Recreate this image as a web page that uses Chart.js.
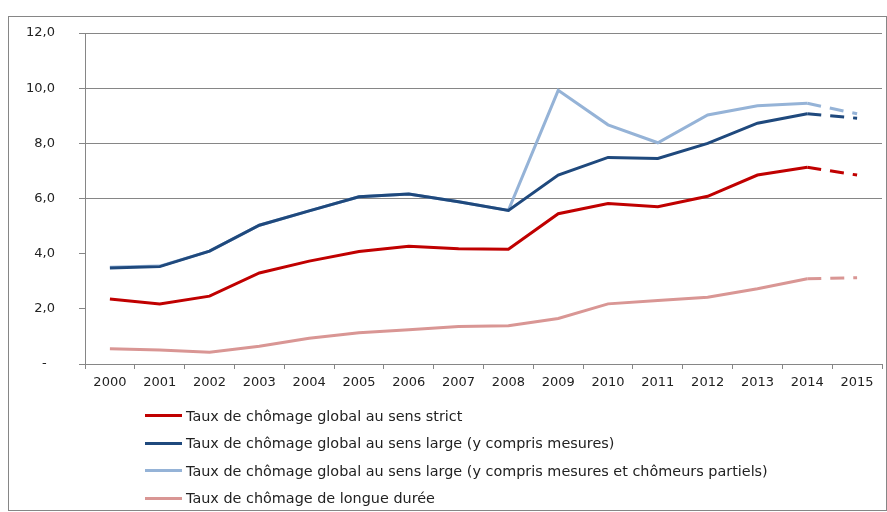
<!DOCTYPE html>
<html>
<head>
<meta charset="utf-8">
<script src="https://cdn.jsdelivr.net/npm/chart.js@4/dist/chart.umd.min.js"></script>
<style>
  body { margin: 0; background: #fff; }
  #wrap { position: relative; width: 887px; height: 512px; }
  #frame { position: absolute; left: 8px; top: 16px; width: 877px; height: 493px; border: 1px solid #868686; pointer-events: none; }
  #legend { position: absolute; left: 145px; top: 402px; font-family: "DejaVu Sans", sans-serif; font-size: 14.4px; color: #222; }
  #legend div { height: 27.5px; display: flex; align-items: center; white-space: nowrap; }
  #legend span.sw { display: inline-block; width: 37px; height: 3px; margin-right: 4px; }
</style>
</head>
<body>
<div id="wrap">
  <canvas id="chart" width="887" height="512"></canvas>
  <div id="frame"></div>
  <div id="legend"></div>
</div>
<script>
// données
const years = ['2000', '2001', '2002', '2003', '2004', '2005', '2006', '2007',
               '2008', '2009', '2010', '2011', '2012', '2013', '2014', '2015'];
const sensStrict = [2.36, 2.18, 2.46, 3.30, 3.73, 4.08, 4.27, 4.18, 4.16, 5.45, 5.82, 5.70, 6.08, 6.85, 7.13, 6.85];
const sensLarge = [3.48, 3.53, 4.09, 5.03, 5.55, 6.06, 6.16, 5.88, 5.57, 6.85, 7.49, 7.45, 8.00, 8.73, 9.07, 8.91];
const sensLargePartiels = [3.51, 3.55, 4.09, 5.03, 5.55, 6.06, 6.16, 5.88, 5.57, 9.92, 8.67, 8.02, 9.03, 9.36, 9.45, 9.07];
const longueDuree = [0.55, 0.51, 0.43, 0.64, 0.93, 1.13, 1.24, 1.36, 1.39, 1.65, 2.18, 2.30, 2.42, 2.73, 3.09, 3.13];
const labels = [
    'Taux de chômage global au sens strict',
    'Taux de chômage global au sens large (y compris mesures)',
    'Taux de chômage global au sens large (y compris mesures et chômeurs partiels)',
    'Taux de chômage de longue durée'
];
const colors = ['#C00000', '#1F497D', '#95B3D7', '#D99694'];

const lastIndex = years.length - 2; // le dernier segment (2014-2015) est en pointillés

function makeDataset(i, values) {
    return {
        label: labels[i],
        data: values,
        borderColor: colors[i],
        backgroundColor: colors[i],
        borderWidth: 3,
        pointRadius: 0,
        tension: 0,
        fill: false,
        segment: {
            borderDash: ctx => ctx.p0DataIndex === lastIndex ? [14, 9] : undefined
        }
    };
}

const grey = '#868686';
const tickFont = { family: '"DejaVu Sans", sans-serif', size: 13 };

const chart = new Chart(document.getElementById('chart').getContext('2d'), {
    type: 'line',
    data: {
        labels: years,
        datasets: [
            makeDataset(0, sensStrict),
            makeDataset(1, sensLarge),
            makeDataset(2, sensLargePartiels),
            makeDataset(3, longueDuree)
        ]
    },
    options: {
        responsive: false,
        animation: false,
        layout: { padding: { left: 0, top: 33, right: 5, bottom: 118 } },
        plugins: {
            legend: { display: false },
            tooltip: { enabled: false }
        },
        scales: {
            x: {
                offset: true,
                grid: { offset: true, drawOnChartArea: false, tickLength: 5, tickColor: grey },
                border: { color: grey },
                ticks: { color: '#222', font: tickFont, padding: 6, maxRotation: 0, autoSkip: false },
                afterFit: scale => { scale.height = 30; }
            },
            y: {
                min: 0,
                max: 12,
                grid: {
                    color: ctx => (ctx.tick && ctx.tick.value >= 6) ? grey : 'rgba(0,0,0,0)',
                    tickColor: grey,
                    tickLength: 6
                },
                border: { color: grey },
                ticks: {
                    stepSize: 2,
                    color: '#222',
                    font: tickFont,
                    padding: 24,
                    callback: v => v === 0 ? '-  ' : v.toFixed(1).replace('.', ',')
                },
                afterFit: scale => { scale.width = 85; }
            }
        }
    }
});

// légende en liste verticale sous le graphique
const legendEl = document.getElementById('legend');
chart.data.datasets.forEach(ds => {
    const row = document.createElement('div');
    const sw = document.createElement('span');
    sw.className = 'sw';
    sw.style.background = ds.borderColor;
    row.appendChild(sw);
    row.appendChild(document.createTextNode(ds.label));
    legendEl.appendChild(row);
});
</script>
</body>
</html>
